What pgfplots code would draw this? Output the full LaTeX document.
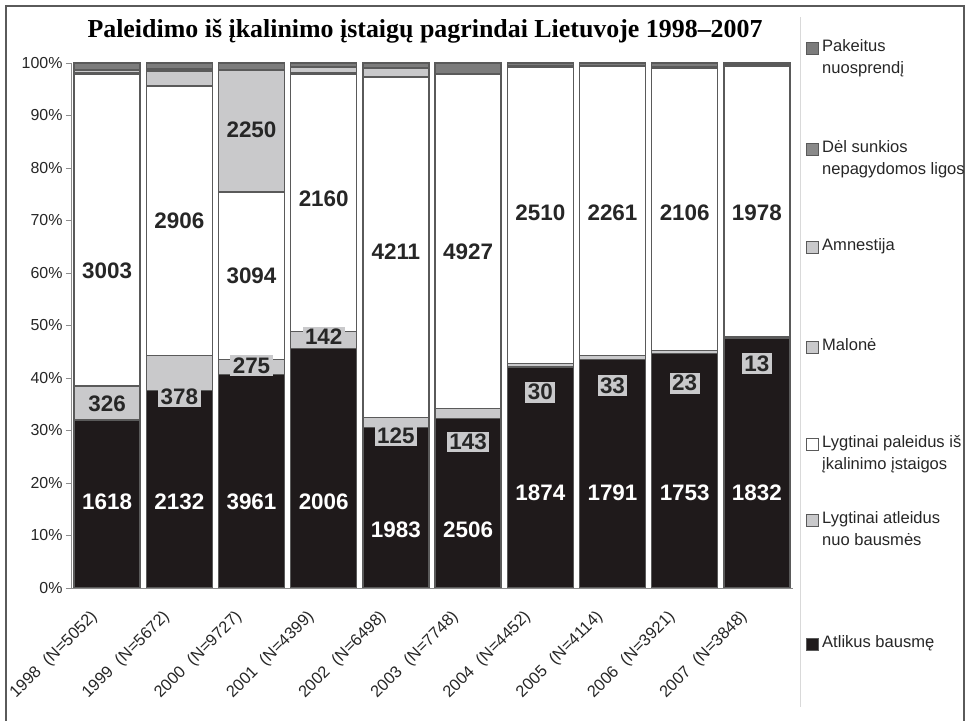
\documentclass[border=0pt]{standalone}
\usepackage{pgfplots}
\usepackage{pgfplotstable}
\pgfplotsset{compat=1.18}
\usepackage{fontspec}
\setmainfont{Liberation Sans}
\newfontfamily\titlefont{Liberation Serif}
\definecolor{cblack}{HTML}{1F1A1B}
\definecolor{clight}{HTML}{C9C9CB}
\definecolor{cmid}{HTML}{8A8A8A}
\definecolor{cedge}{HTML}{5A5A5A}

% counts: A=Atlikus bausme, L=Lygtinai atleidus, P=Lygtinai paleidus, M=Malone, Am=Amnestija, D=Del ligos, Pk=Pakeitus
\pgfplotstableread{
x N A L P M Am D Pk
0 5052 1618 326 3003 10 25 10 60
1 5672 2132 378 2906 16 155 20 65
2 9727 3961 275 3094 10 2250 20 117
3 4399 2006 142 2160 6 45 10 30
4 6498 1983 125 4211 9 100 15 55
5 7748 2506 143 4927 5 5 12 150
6 4452 1874 30 2510 5 0 8 25
7 4114 1791 33 2261 5 0 6 18
8 3921 1753 23 2106 6 0 8 25
9 3848 1832 13 1978 4 0 6 15
}\data

% label positions (percent)
\pgfplotstableread{
x y t
0 16.4 1618
1 16.4 2132
2 16.4 3961
3 16.4 2006
4 11.0 1983
5 11.0 2506
6 18.1 1874
7 18.1 1791
8 18.1 1753
9 18.1 1832
}\lblA
\pgfplotstableread{
x y t
0 35.0 326
1 36.4 378
2 42.3 275
3 47.8 142
4 29.0 125
5 27.8 143
6 37.3 30
7 38.5 33
8 39.0 23
9 42.7 13
}\lblL
\pgfplotstableread{
x y t
0 60.4 3003
1 69.9 2906
2 59.4 3094
2 87.2 2250
3 74.1 2160
4 64.0 4211
5 64.0 4927
6 71.4 2510
7 71.4 2261
8 71.4 2106
9 71.4 1978
}\lblP

\newcommand{\legsq}[2]{\filldraw[fill=#1, draw=cedge, line width=1bp] (806bp,#2bp-6bp) rectangle (818bp,#2bp+6bp);}

\begin{document}
\begin{tikzpicture}
\useasboundingbox (0bp,0bp) rectangle (968bp,721bp);
\draw[cedge,line width=2bp] (6bp,-5bp) -- (6bp,715bp) -- (964bp,715bp) -- (964bp,-5bp);
\draw[black!15,line width=1bp] (800bp,14bp) -- (800bp,704bp);
\node[font=\titlefont\bfseries\fontsize{26}{28}\selectfont] at (425bp,690bp) {Paleidimo iš įkalinimo įstaigų pagrindai Lietuvoje 1998–2007};

\begin{axis}[
  at={(71bp,133bp)}, anchor=south west, scale only axis,
  width=722bp, height=525bp,
  xmin=-0.5, xmax=9.5, ymin=0, ymax=100,
  ybar stacked, bar width=66bp,
  axis x line*=bottom, axis y line*=left,
  axis line style={draw=black!45, line width=1bp},
  ytick={0,10,...,100},
  yticklabel={\pgfmathprintnumber{\tick}\%},
  /pgf/number format/assume math mode=true,
  tick label style={font=\fontsize{16}{18}\selectfont, text=black!85},
  ytick style={draw=black!45},
  tick align=outside, major tick length=5bp,
  xtick={0,...,9},
  xtick style={draw=none},
  xticklabels={1998\hspace{0.6em}(N=5052),1999\hspace{0.6em}(N=5672),2000\hspace{0.6em}(N=9727),2001\hspace{0.6em}(N=4399),2002\hspace{0.6em}(N=6498),2003\hspace{0.6em}(N=7748),2004\hspace{0.6em}(N=4452),2005\hspace{0.6em}(N=4114),2006\hspace{0.6em}(N=3921),2007\hspace{0.6em}(N=3848)},
  xticklabel style={rotate=45, anchor=north east, inner sep=1bp, font=\fontsize{16.5}{18}\selectfont, xshift=-22.5bp, yshift=2.5bp},
  every axis plot/.append style={draw=cedge, line width=1.3bp},
]
\addplot[fill=cblack] table[x=x, y expr=\thisrow{A}/\thisrow{N}*100]{\data};
\addplot[fill=clight] table[x=x, y expr=\thisrow{L}/\thisrow{N}*100]{\data};
\addplot[fill=white] table[x=x, y expr=\thisrow{P}/\thisrow{N}*100]{\data};
\addplot[fill=clight] table[x=x, y expr=\thisrow{M}/\thisrow{N}*100]{\data};
\addplot[fill=clight] table[x=x, y expr=\thisrow{Am}/\thisrow{N}*100]{\data};
\addplot[fill=cmid] table[x=x, y expr=\thisrow{D}/\thisrow{N}*100]{\data};
\addplot[fill=cmid!90!black] table[x=x, y expr=\thisrow{Pk}/\thisrow{N}*100]{\data};
\end{axis}

\begin{axis}[
  at={(71bp,133bp)}, anchor=south west, scale only axis,
  width=722bp, height=525bp,
  xmin=-0.5, xmax=9.5, ymin=0, ymax=100,
  hide axis, clip=false,
]
\addplot[draw=none, mark=none, nodes near coords, point meta=explicit symbolic,
  every node near coord/.append style={anchor=center, text=white, font=\bfseries\fontsize{22.5}{22}\selectfont}]
  table[x=x, y=y, meta=t]{\lblA};
\addplot[draw=none, mark=none, nodes near coords, point meta=explicit symbolic,
  every node near coord/.append style={anchor=center, text=black!85, fill=clight, inner sep=2.5bp, font=\bfseries\fontsize{22.5}{22}\selectfont}]
  table[x=x, y=y, meta=t]{\lblL};
\addplot[draw=none, mark=none, nodes near coords, point meta=explicit symbolic,
  every node near coord/.append style={anchor=center, text=black!85, font=\bfseries\fontsize{22.5}{22}\selectfont}]
  table[x=x, y=y, meta=t]{\lblP};
\end{axis}

% legend
\begin{scope}[font=\fontsize{16.6}{22}\selectfont, every node/.style={anchor=north west, align=left, inner sep=0pt, text=black!85}]
\legsq{cmid!90!black}{672}
\node at (822bp,682bp) {Pakeitus\\nuosprendį};
\legsq{cmid}{571}
\node at (822bp,581bp) {Dėl sunkios\\nepagydomos ligos};
\legsq{clight}{473}
\node at (822bp,483bp) {Amnestija};
\legsq{clight}{373}
\node at (822bp,383bp) {Malonė};
\legsq{white}{276}
\node at (822bp,286bp) {Lygtinai paleidus iš\\įkalinimo įstaigos};
\legsq{clight}{200}
\node at (822bp,210bp) {Lygtinai atleidus\\nuo bausmės};
\legsq{cblack}{76}
\node at (822bp,86bp) {Atlikus bausmę};
\end{scope}
\end{tikzpicture}
\end{document}
